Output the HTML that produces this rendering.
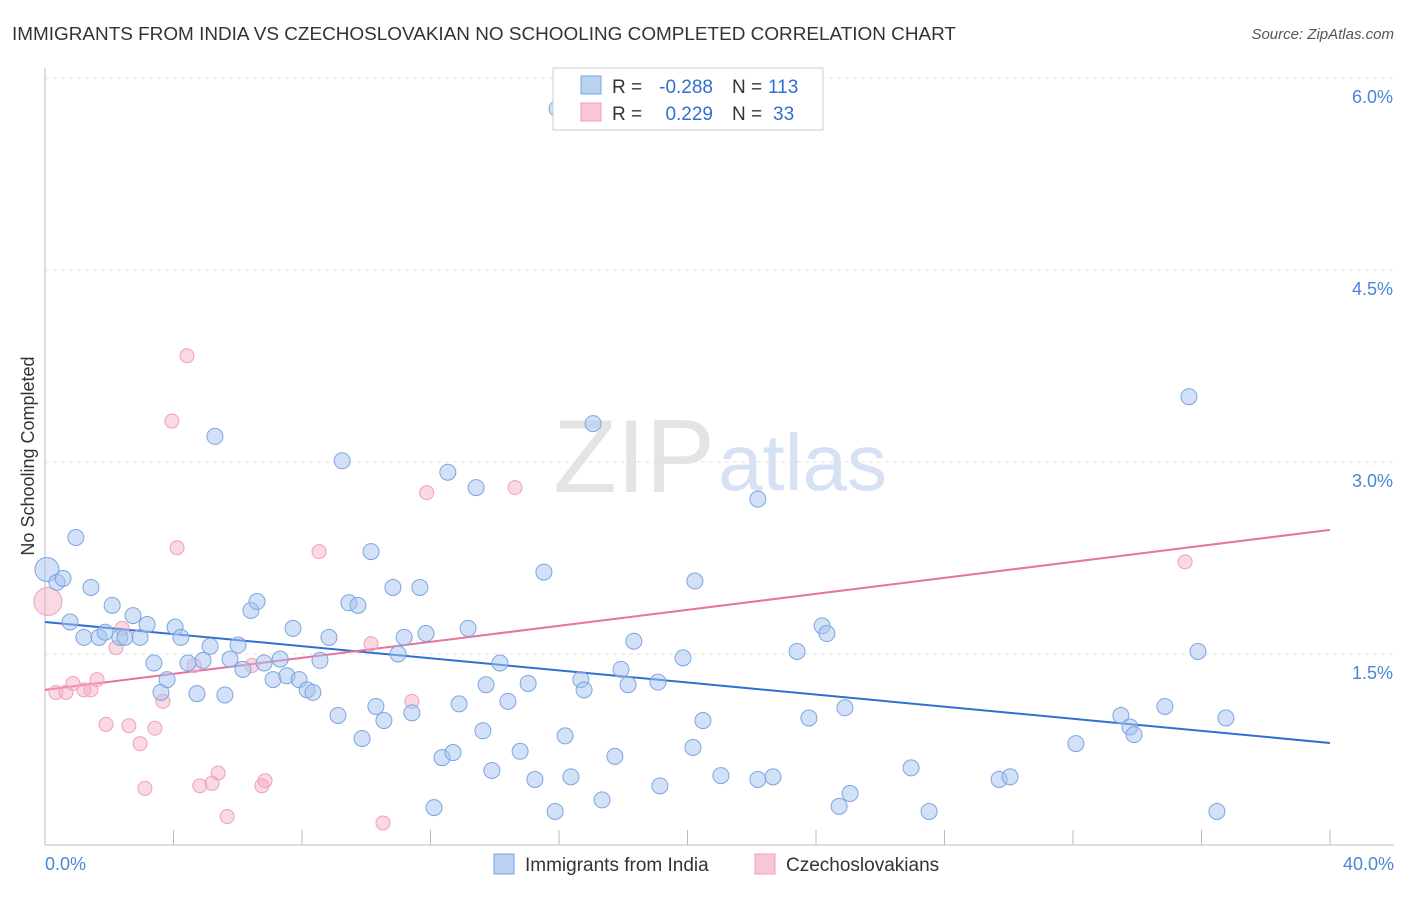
<!DOCTYPE html>
<html><head><meta charset="utf-8"><style>
body{margin:0;background:#fff;font-family:"Liberation Sans",sans-serif;}
svg text{font-family:"Liberation Sans",sans-serif;}
</style></head><body>
<svg id="chart" width="1406" height="892" viewBox="0 0 1406 892" xmlns="http://www.w3.org/2000/svg">
<text x="12" y="40" font-size="18" fill="#333" textLength="944" lengthAdjust="spacingAndGlyphs">IMMIGRANTS FROM INDIA VS CZECHOSLOVAKIAN NO SCHOOLING COMPLETED CORRELATION CHART</text>
<text x="1394" y="39" font-size="15" fill="#555" text-anchor="end" font-style="italic">Source: ZipAtlas.com</text>
<text x="715" y="492" font-size="104" fill="#e4e4e4" text-anchor="end" font-family="Liberation Serif">ZIP</text>
<text x="718" y="490" font-size="80" fill="#d6e2f4">atlas</text>
<g id="grid"></g><g id="axes"></g><g id="trends"></g><g id="pts"></g>
<text transform="translate(34,456) rotate(-90)" font-size="18" fill="#333" text-anchor="middle">No Schooling Completed</text>
<g font-size="19">
<rect x="553" y="68" width="270" height="62" fill="#fff" stroke="#ccc"/>
<rect x="581" y="76" width="20" height="18" fill="#b9d1f3" stroke="#7aa6e0"/>
<rect x="581" y="103" width="20" height="18" fill="#f8c6d5" stroke="#f0a0b8"/>
<text x="612" y="93" fill="#333">R =</text>
<text x="713" y="93" fill="#2f6fd0" text-anchor="end">-0.288</text>
<text x="732" y="93" fill="#333">N =</text>
<text x="768" y="93" fill="#2f6fd0">113</text>
<text x="612" y="120" fill="#333">R =</text>
<text x="713" y="120" fill="#2f6fd0" text-anchor="end">0.229</text>
<text x="732" y="120" fill="#333">N =</text>
<text x="773" y="120" fill="#2f6fd0">33</text>
</g>
<g>
<rect x="494" y="854" width="20" height="20" fill="#b9d1f3" stroke="#7aa6e0"/>
<text x="525" y="871" font-size="19" fill="#333">Immigrants from India</text>
<rect x="755" y="854" width="20" height="20" fill="#f8c6d5" stroke="#f0a0b8"/>
<text x="786" y="871" font-size="19" fill="#333">Czechoslovakians</text>
</g>
</svg>
<script>
const yTicks=[1.5,3.0,4.5,6.0];
const yTickLabels=["1.5%","3.0%","4.5%","6.0%"];
const xTicks=[0,4,8,12,16,20,24,28,32,36,40];
const xEndLabels=["0.0%","40.0%"];
const indiaX=[0.06,0.37,0.56,0.96,0.78,1.43,1.21,1.68,1.87,2.09,2.33,2.49,2.74,2.96,3.18,3.39,3.61,3.80,4.05,4.23,4.45,4.73,4.92,5.14,5.29,5.60,5.76,6.01,6.16,6.41,6.60,6.82,7.10,7.32,7.53,7.72,7.91,8.16,8.34,8.56,8.84,9.12,9.25,9.46,9.74,9.87,10.15,10.30,10.55,10.83,10.99,11.18,11.42,11.67,11.86,12.11,12.36,12.54,12.70,12.89,13.17,13.42,13.63,13.73,13.91,14.16,14.41,14.79,15.04,15.25,15.53,15.88,16.19,16.37,16.68,16.78,17.06,17.34,17.74,17.93,18.15,18.33,19.08,19.14,19.86,20.23,20.17,20.48,21.04,22.19,22.19,22.66,23.41,23.78,24.19,24.34,24.72,24.90,25.06,26.96,27.52,29.70,30.04,32.09,33.49,33.77,33.90,34.86,35.61,35.89,36.48,36.76,15.94];
const indiaY=[2.16,2.06,2.09,2.41,1.75,2.02,1.63,1.63,1.67,1.88,1.63,1.63,1.80,1.63,1.73,1.43,1.20,1.30,1.71,1.63,1.43,1.19,1.45,1.56,3.20,1.18,1.46,1.57,1.38,1.84,1.91,1.43,1.30,1.46,1.33,1.70,1.30,1.22,1.20,1.45,1.63,1.02,3.01,1.90,1.88,0.84,2.30,1.09,0.98,2.02,1.50,1.63,1.04,2.02,1.66,0.30,0.69,2.92,0.73,1.11,1.70,2.80,0.90,1.26,0.59,1.43,1.13,0.74,1.27,0.52,2.14,0.27,0.86,0.54,1.30,1.22,3.30,0.36,0.70,1.38,1.26,1.60,1.28,0.47,1.47,2.07,0.77,0.98,0.55,2.71,0.52,0.54,1.52,1.00,1.72,1.66,0.31,1.08,0.41,0.61,0.27,0.52,0.54,0.80,1.02,0.93,0.87,1.09,3.51,1.52,0.27,1.00,5.76];
const czX=[0.09,0.34,0.65,0.87,1.21,1.43,1.62,1.90,2.21,2.40,2.61,2.96,3.11,3.42,3.67,3.95,4.11,4.42,4.64,4.82,5.20,5.39,5.67,6.44,6.75,6.85,8.53,10.15,10.52,11.42,11.88,14.63,35.49];
const czY=[1.91,1.20,1.20,1.27,1.22,1.22,1.30,0.95,1.55,1.70,0.94,0.80,0.45,0.92,1.13,3.32,2.33,3.83,1.41,0.47,0.49,0.57,0.23,1.41,0.47,0.51,2.30,1.58,0.18,1.13,2.76,2.80,2.22];
const indiaTrend=[1.75,0.805];
const czTrend=[1.22,2.47];
const NS="http://www.w3.org/2000/svg";
const X=v=>45+v/40*1285, Y=v=>846-v*128;
function mk(t,a,p){const e=document.createElementNS(NS,t);for(const k in a)e.setAttribute(k,a[k]);p.appendChild(e);return e;}
const grid=document.getElementById('grid'),axes=document.getElementById('axes'),tr=document.getElementById('trends'),pts=document.getElementById('pts');
yTicks.forEach((v,i)=>{
 const l=mk('line',{x1:45,x2:1394,y1:Y(v),y2:Y(v),stroke:'#e0e0e0','stroke-dasharray':'4,4'},grid);
 
 
 const t=mk('text',{x:1393,y:Y(v)+25,'font-size':18,fill:'#4a86d8','text-anchor':'end'},grid);
 t.textContent=yTickLabels[i];
 
 
});
let a=mk('line',{x1:45,x2:45,y1:68,y2:845,stroke:'#bbb'},axes);


a=mk('line',{x1:45,x2:1394,y1:845,y2:845,stroke:'#bbb'},axes);


xTicks.forEach(v=>{const t=mk('line',{x1:X(v),x2:X(v),y1:830,y2:845,stroke:'#bbb'},axes);
 
 });
[[0,'start',45],[40,'end',1394]].forEach((d,i)=>{const t=mk('text',{x:d[2],y:870,'font-size':18,fill:'#4a86d8','text-anchor':d[1]},axes);t.textContent=xEndLabels[i];
 
 });
function pt(x,y,r,f,s,name){const c=mk('circle',{cx:X(x),cy:Y(y),r:r,fill:f,stroke:s,'stroke-width':1},pts);
 
 }
czX.forEach((x,i)=>pt(x,czY[i],i==0?14:7,'rgba(245,170,195,0.45)','#f0a0b8','czech-point'));
indiaX.forEach((x,i)=>pt(x,indiaY[i],i==0?12:8,'rgba(165,196,240,0.5)','#7aa6e0','india-point'));
let l=mk('line',{x1:X(0),x2:X(40),y1:Y(indiaTrend[0]),y2:Y(indiaTrend[1]),stroke:'#2f6fd0','stroke-width':2},tr);


l=mk('line',{x1:X(0),x2:X(40),y1:Y(czTrend[0]),y2:Y(czTrend[1]),stroke:'#e8739b','stroke-width':2},tr);


</script>
</body></html>
